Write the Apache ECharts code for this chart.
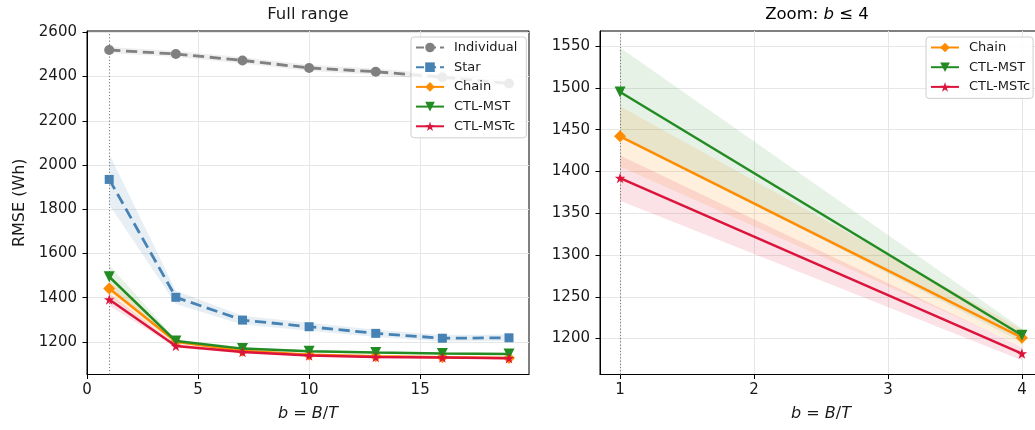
<!DOCTYPE html>
<html>
<head>
<meta charset="utf-8">
<script src="https://cdn.jsdelivr.net/npm/echarts@6/dist/echarts.min.js"></script>
<style>
html, body { margin: 0; padding: 0; background: #fff; }
#main { width: 1035px; height: 430px; }
</style>
</head>
<body>
<div id="main"></div>
<script>
var bValues = [1, 4, 7, 10, 13, 16, 19];

var individual = [2520, 2502, 2473, 2439, 2422, 2397, 2369];
var individualStd = [14, 14, 14, 14, 14, 14, 14];
var star = [1935, 1402, 1299, 1269, 1239, 1217, 1219];
var starStd = [115, 30, 20, 18, 16, 15, 15];
var chain = [1442, 1201, 1160, 1142, 1135, 1131, 1128];
var chainStd = [36, 10, 7, 6, 5, 5, 5];
var ctlMst = [1495, 1204, 1170, 1158, 1152, 1148, 1146];
var ctlMstStd = [53, 8, 6, 5, 5, 5, 5];
var ctlMstc = [1392, 1182, 1155, 1139, 1132, 1130, 1127];
var ctlMstcStd = [27, 8, 6, 5, 5, 5, 5];

var leftXTicks = [0, 5, 10, 15];
var leftYTicks = [1200, 1400, 1600, 1800, 2000, 2200, 2400, 2600];
var rightYTicks = [1200, 1250, 1300, 1350, 1400, 1450, 1500, 1550];
var rightXTicks = [1, 2, 3, 4];

var FONT = 'DejaVu Sans';
var zoomCount = bValues.filter(function (b) { return b <= 4; }).length;

var starPath = 'path://M50,0 L61.8,35.4 L99,35.4 L68.9,57.3 L80.4,92.7 L50,70.8 L19.6,92.7 L31.1,57.3 L1,35.4 L38.2,35.4 Z';
var downTri = 'path://M0,0 L10,0 L5,9 Z';

function pairs(xs, ys, n) {
    var out = [];
    for (var i = 0; i < n; i++) out.push([xs[i], ys[i]]);
    return out;
}

function band(name, mean, std, color, idx, n) {
    var rows = [];
    for (var i = 0; i < n; i++) rows.push([bValues[i], mean[i] - std[i], mean[i] + std[i]]);
    return {
        type: 'custom',
        name: name + ' band',
        xAxisIndex: idx,
        yAxisIndex: idx,
        silent: true,
        clip: true,
        z: 1,
        data: rows,
        encode: { x: 0, y: [1, 2] },
        renderItem: function (params, api) {
            if (params.dataIndex !== 0) return;
            var top = [], bot = [];
            rows.forEach(function (r) {
                top.push(api.coord([r[0], r[2]]));
                bot.unshift(api.coord([r[0], r[1]]));
            });
            return {
                type: 'polygon',
                shape: { points: top.concat(bot) },
                style: { fill: color }
            };
        }
    };
}

function line(name, ys, color, symbol, size, dashed, idx, n, z) {
    return {
        type: 'line',
        name: name,
        xAxisIndex: idx,
        yAxisIndex: idx,
        data: pairs(bValues, ys, n),
        symbol: symbol,
        symbolSize: size,
        showAllSymbol: true,
        z: z,
        lineStyle: { color: color, width: dashed ? 2.8 : 2.5, type: dashed ? 'dashed' : 'solid', dashOffset: 0 },
        itemStyle: { color: color, opacity: 1 },
        emphasis: { disabled: true }
    };
}

function vline(idx) {
    return {
        type: 'line',
        name: 'ref' + idx,
        xAxisIndex: idx,
        yAxisIndex: idx,
        data: [],
        silent: true,
        markLine: {
            silent: true,
            symbol: ['none', 'none'],
            label: { show: false },
            lineStyle: { color: '#808080', width: 1.1, type: [1.2, 2] },
            data: [{ xAxis: 1 }]
        }
    };
}

function plain(v) { return String(v); }

function valueAxis(opts) {
    var base = {
        type: 'value',
        axisLine: { show: true, onZero: false, lineStyle: { color: '#000', width: 1 } },
        axisTick: { show: true, length: 4.5, lineStyle: { color: '#000', width: 1 } },
        axisLabel: { color: '#1a1a1a', fontSize: 15, fontFamily: FONT, formatter: plain },
        splitLine: { show: true, lineStyle: { color: '#e6e6e6', width: 1 } },
        nameTextStyle: { color: '#1a1a1a', fontSize: 16, fontFamily: FONT }
    };
    for (var k in opts) {
        if (typeof opts[k] === 'object' && base[k] && !Array.isArray(opts[k])) {
            for (var j in opts[k]) base[k][j] = opts[k][j];
        } else {
            base[k] = opts[k];
        }
    }
    return base;
}

var xName = '{i|b} = {i|B}/{i|T}';
var italicRich = { i: { fontStyle: 'italic', fontSize: 16, fontFamily: FONT, color: '#1a1a1a' } };

function legendBox(left, names, padRight) {
    return {
        orient: 'vertical',
        left: left,
        top: 37,
        data: names,
        itemWidth: 28,
        itemHeight: 12,
        itemGap: 4.7,
        padding: [3, padRight, 4, 4],
        borderColor: '#cfcfcf',
        borderWidth: 1,
        borderRadius: 3,
        backgroundColor: 'rgba(255,255,255,0.85)',
        selectedMode: false,
        textStyle: { fontSize: 13, fontFamily: FONT, color: '#1a1a1a', lineHeight: 15, padding: [0, 0, 0, 5] }
    };
}

var myChart = echarts.init(document.getElementById('main'));

option = {
    animation: false,
    backgroundColor: '#fff',
    graphic: [
        { type: 'text', x: 308, y: 15, style: { text: 'Full range', align: 'center', verticalAlign: 'middle', fontSize: 16.5, fontFamily: FONT, fill: '#1a1a1a' } },
        { type: 'text', x: 817, y: 15, style: { text: '{n|Zoom: }{i|b}{n| \u2264 4}', align: 'center', verticalAlign: 'middle',
            rich: { n: { fontSize: 16.5, fontFamily: FONT, color: '#1a1a1a' }, i: { fontSize: 16.5, fontFamily: FONT, fontStyle: 'italic', color: '#1a1a1a' } } } }
    ],
    legend: [
        legendBox(411, ['Individual', 'Star', 'Chain', 'CTL-MST', 'CTL-MSTc'], 9),
        legendBox(926, ['Chain', 'CTL-MST', 'CTL-MSTc'], 3)
    ],
    grid: [
        { left: 87, right: 506, top: 31, bottom: 55.5, show: true, borderColor: '#000', borderWidth: 1, outerBoundsMode: 'none' },
        { left: 600, right: -7, top: 31, bottom: 55.5, show: true, borderColor: '#000', borderWidth: 1, outerBoundsMode: 'none' }
    ],
    xAxis: [
        valueAxis({ gridIndex: 0, min: 0, max: 19.9,
            axisTick: { customValues: leftXTicks },
            axisLabel: { margin: 8, customValues: leftXTicks },
            name: xName, nameLocation: 'middle', nameGap: 31,
            nameTextStyle: { rich: italicRich } }),
        valueAxis({ gridIndex: 1, min: 0.85, max: 4.15,
            axisTick: { customValues: rightXTicks },
            axisLabel: { margin: 8, customValues: rightXTicks },
            name: xName, nameLocation: 'middle', nameGap: 31,
            nameTextStyle: { rich: italicRich } })
    ],
    yAxis: [
        valueAxis({ gridIndex: 0, min: 1053, max: 2606,
            axisTick: { customValues: leftYTicks },
            axisLabel: { margin: 10, customValues: leftYTicks },
            name: 'RMSE (Wh)', nameLocation: 'middle', nameGap: 59 }),
        valueAxis({ gridIndex: 1, min: 1157, max: 1568,
            axisTick: { customValues: rightYTicks },
            axisLabel: { margin: 10, customValues: rightYTicks } })
    ],
    series: [
        band('Individual', individual, individualStd, 'rgba(128,128,128,0.13)', 0, bValues.length),
        band('Star', star, starStd, 'rgba(70,130,180,0.13)', 0, bValues.length),
        band('Chain', chain, chainStd, 'rgba(255,140,0,0.13)', 0, bValues.length),
        band('CTL-MST', ctlMst, ctlMstStd, 'rgba(34,139,34,0.11)', 0, bValues.length),
        band('CTL-MSTc', ctlMstc, ctlMstcStd, 'rgba(220,20,60,0.12)', 0, bValues.length),
        vline(0),
        line('Individual', individual, '#808080', 'circle', 10, true, 0, bValues.length, 3),
        line('Star', star, '#4682B4', 'rect', 9, true, 0, bValues.length, 4),
        line('Chain', chain, '#FF8C00', 'diamond', 12, false, 0, bValues.length, 5),
        line('CTL-MST', ctlMst, '#228B22', downTri, 11, false, 0, bValues.length, 6),
        line('CTL-MSTc', ctlMstc, '#DC143C', starPath, 10.5, false, 0, bValues.length, 7),

        band('Chain', chain, chainStd, 'rgba(255,140,0,0.13)', 1, zoomCount),
        band('CTL-MST', ctlMst, ctlMstStd, 'rgba(34,139,34,0.11)', 1, zoomCount),
        band('CTL-MSTc', ctlMstc, ctlMstcStd, 'rgba(220,20,60,0.12)', 1, zoomCount),
        vline(1),
        line('Chain', chain, '#FF8C00', 'diamond', 12, false, 1, zoomCount, 5),
        line('CTL-MST', ctlMst, '#228B22', downTri, 11, false, 1, zoomCount, 6),
        line('CTL-MSTc', ctlMstc, '#DC143C', starPath, 10.5, false, 1, zoomCount, 7)
    ]
};

myChart.setOption(option);
</script>
</body>
</html>
